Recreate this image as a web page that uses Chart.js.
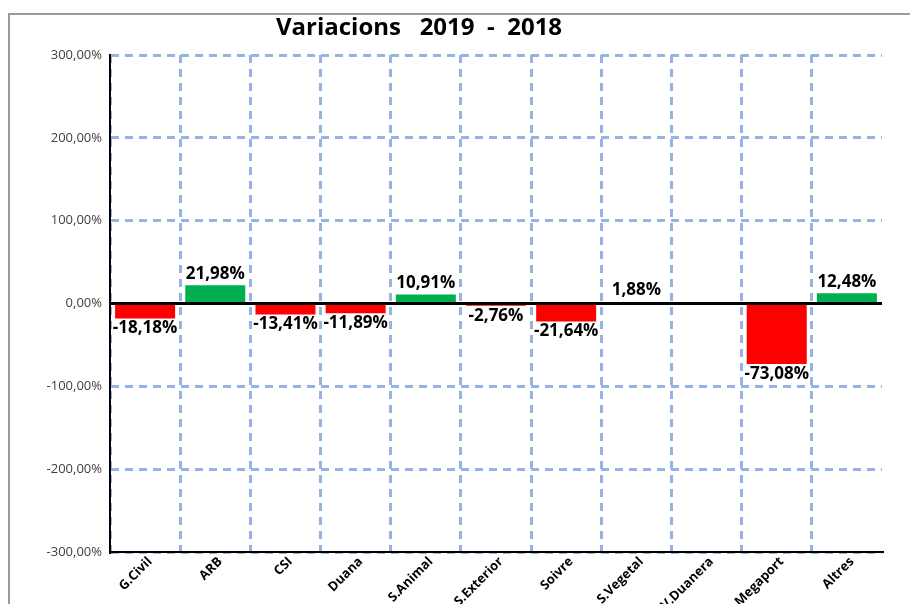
<!DOCTYPE html>
<html>
<head>
<meta charset="utf-8">
<script src="https://cdn.jsdelivr.net/npm/chart.js@4"></script>
<style>
html,body{margin:0;padding:0;background:#fff;}
#wrap{width:910px;height:604px;position:relative;}
</style>
</head>
<body>
<div id="wrap"><canvas id="c" width="910" height="604"></canvas></div>
<script>
const categories = ['G.Civil','ARB','CSI','Duana','S.Animal','S.Exterior','Soivre','S.Vegetal','V.Duanera','Megaport','Altres'];
const variations = [-18.18, 21.98, -13.41, -11.89, 10.91, -2.76, -21.64, 1.88, null, -73.08, 12.48];
const yTicks = [-300, -200, -100, 0, 100, 200, 300];
const titleText = 'Variacions   2019  -  2018';

const GREEN = '#00B050', RED = '#FF0000', GRID = '#95B3E3';
const fmt = v => v.toFixed(2).replace('.', ',') + '%';

const framePlugin = {
  id: 'frame',
  beforeDraw(chart) {
    const ctx = chart.ctx;
    ctx.save();
    ctx.fillStyle = '#fff';
    ctx.fillRect(0, 0, chart.width, chart.height);
    ctx.strokeStyle = '#9a9a9a';
    ctx.lineWidth = 2;
    ctx.beginPath();
    ctx.moveTo(9, 620); ctx.lineTo(9, 14); ctx.lineTo(915, 14);
    ctx.stroke();
    ctx.fillStyle = '#000';
    ctx.font = 'bold 24px "Open Sans"';
    ctx.textAlign = 'center';
    ctx.textBaseline = 'middle';
    ctx.fillText(titleText, 419, 28, 288);
    ctx.restore();
  },
  beforeDatasetsDraw(chart) {
    const ctx = chart.ctx, y = chart.scales.y, a = chart.chartArea;
    const zy = y.getPixelForValue(0);
    ctx.save();
    ctx.strokeStyle = '#000';
    ctx.lineWidth = 3;
    ctx.beginPath();
    ctx.moveTo(a.left, zy); ctx.lineTo(a.right, zy);
    ctx.stroke();
    ctx.restore();
  },
  afterDatasetsDraw(chart) {
    const ctx = chart.ctx;
    const meta = chart.getDatasetMeta(0);
    ctx.save();
    ctx.fillStyle = '#000';
    ctx.font = 'bold 17px "Open Sans"';
    ctx.textAlign = 'center';
    meta.data.forEach((el, i) => {
      const v = variations[i];
      if (v === null || v === undefined) return;
      if (v >= 0) {
        ctx.textBaseline = 'bottom';
        ctx.fillText(fmt(v), el.x, el.y - 3);
      } else {
        ctx.textBaseline = 'middle';
        ctx.fillText(fmt(v), el.x, el.y + 10);
      }
    });
    ctx.restore();
  }
};

new Chart(document.getElementById('c'), {
  type: 'bar',
  data: {
    labels: categories,
    datasets: [{
      data: variations,
      backgroundColor: variations.map(v => (v !== null && v < 0) ? RED : GREEN),
      borderWidth: 0,
      barPercentage: 0.855,
      categoryPercentage: 1.0
    }]
  },
  options: {
    responsive: false,
    animation: false,
    devicePixelRatio: 1,
    layout: { padding: { top: 55, right: 28, left: 0, bottom: 0 } },
    plugins: { legend: { display: false }, tooltip: { enabled: false }, title: { display: false } },
    scales: {
      x: {
        offset: true,
        grid: {
          offset: true,
          drawTicks: false,
          lineWidth: 3,
          color: ctx => ctx.tick ? GRID : 'rgba(0,0,0,0)'
        },
        border: { display: true, color: '#000', width: 2, dash: [8, 6] },
        ticks: {
          autoSkip: false,
          maxRotation: 45,
          minRotation: 45,
          padding: 2,
          labelOffset: 5,
          color: '#000',
          font: { family: 'Open Sans', weight: 'bold', size: 13 }
        },
        afterFit: s => { s.height = 52; }
      },
      y: {
        min: -300,
        max: 300,
        afterBuildTicks: s => { s.ticks = yTicks.map(v => ({ value: v })); },
        grid: { drawTicks: false, lineWidth: 3, color: GRID },
        border: { display: true, color: '#000', width: 2, dash: [8, 6] },
        ticks: {
          padding: 8,
          color: '#404040',
          font: { family: 'Open Sans', size: 13 },
          callback: v => fmt(v)
        },
        afterFit: s => { s.width = 110; }
      }
    }
  },
  plugins: [framePlugin]
});
</script>
</body>
</html>
